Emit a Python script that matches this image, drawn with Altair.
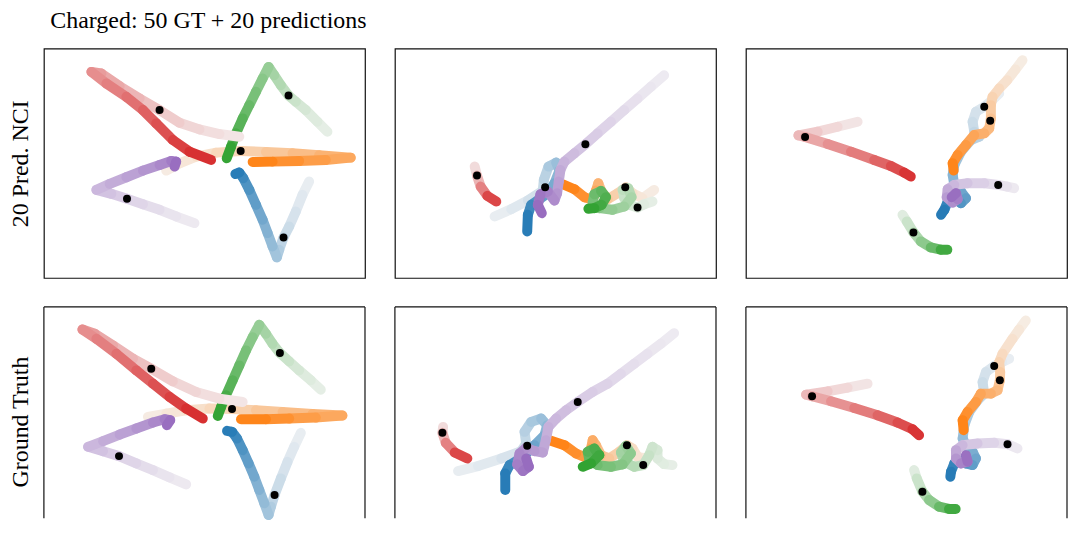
import altair as alt
import pandas as pd

# ---------------- data (positions in arbitrary plot units) ----------------
TRAJ = ["blue", "orange", "green", "red", "purple"]
COLORS = ["#1f77b4", "#ff7f0e", "#2ca02c", "#d62728", "#9467bd"]
FAINT = ["#eaeef2", "#f6ede5", "#e7efe7", "#f3e7e7", "#eeebf1"]

# Panel 1: 20 Pred. NCI, sample A  (each list runs from the faint/early end to the dark/late end)
P1_BLUE = [(810,405),(790,445),(770,495),(750,540),(733,573),(720,610),(713,633),(700,600),(685,560),(670,520),(650,475),(630,430),(612,395),(600,378),(588,382)]
P1_ORANGE = [(380,372),(420,350),(470,330),(530,318),(604,313),(680,316),(760,320),(840,326),(935,333),(860,340),(780,343),(700,345),(640,346)]
P1_GREEN = [(865,255),(835,225),(800,190),(770,165),(748,146),(725,115),(705,85),(688,60),(670,95),(650,135),(630,175),(610,215),(590,260),(575,300),(562,335)]
P1_RED = [(600,270),(540,262),(480,248),(420,228),(360,190),(300,155),(240,118),(185,80),(155,75),(200,110),(260,150),(310,190),(350,230),(400,280),(450,315),(515,340)]
P1_PURPLE = [(465,530),(410,510),(360,490),(310,473),(262,457),(215,442),(170,430),(210,412),(260,392),(310,372),(360,355),(395,343),(410,345),(405,360)]
P1_DOTS = [(360,190),(748,146),(604,313),(262,457),(733,573)]

# Panel 2: 20 Pred. NCI, sample B
P2_BLUE = [(310,510),(360,488),(410,462),(455,432),(458,400),(472,360),(495,348),(505,372),(490,410),(470,440),(445,458),(420,475),(410,505),(408,555)]
P2_ORANGE = [(790,430),(755,455),(725,440),(705,422),(680,440),(650,458),(632,435),(622,410),(615,432),(605,460),(580,452),(550,428),(515,413)]
P2_GREEN = [(785,465),(760,473),(740,483),(715,475),(700,455),(695,430),(712,425),(722,452),(700,480),(665,490),(625,485),(605,468),(610,443),(630,433),(645,452),(632,475),(610,485),(592,487)]
P2_RED = [(250,360),(257,387),(268,420),(288,448),(315,465)]
P2_PURPLE = [(820,85),(780,120),(740,155),(700,190),(660,225),(620,260),(583,293),(550,320),(520,345),(508,370),(503,405),(498,440),(490,462),(470,435),(448,443),(440,475),(452,500)]
P2_DOTS = [(583,293),(462,422),(257,387),(703,422),(740,483)]

# Panel 3: 20 Pred. NCI, sample C
P3_BLUE = [(776,140),(755,160),(731,180),(706,195),(696,225),(701,255),(716,270),(691,280),(661,315),(641,355),(636,385),(641,415),(661,435),(676,455),(661,470),(641,455),(621,465),(611,490),(601,505)]
P3_ORANGE = [(846,40),(825,68),(800,100),(776,125),(756,150),(751,175),(751,215),(746,245),(731,260),(701,265),(676,295),(651,325),(636,350),(639,372)]
P3_GREEN = [(485,505),(498,525),(518,558),(540,585),(570,603),(600,610),(620,610)]
P3_RED = [(350,225),(290,240),(230,255),(172,266),(192,271),(260,292),(330,315),(400,340),(450,358),(490,378),(510,390)]
P3_PURPLE = [(821,425),(800,420),(773,415),(731,410),(681,410),(641,415),(621,428),(618,452),(636,468),(651,458),(646,440),(633,452)]
P3_DOTS = [(192,271),(518,558),(731,180),(749,222),(773,415)]

# Panel 4: Ground Truth, sample A
P4_BLUE = [(785,393),(765,435),(745,480),(725,530),(706,580),(695,615),(688,640),(675,605),(660,565),(645,525),(628,485),(610,445),(593,410),(578,390),(563,387)]
P4_ORANGE = [(325,345),(380,335),(440,325),(510,320),(578,321),(650,325),(730,330),(820,336),(910,341),(830,347),(750,350),(680,352),(605,352)]
P4_GREEN = [(845,263),(815,235),(780,205),(750,178),(722,153),(700,125),(680,95),(660,68),(640,105),(620,145),(600,190),(580,235),(560,280),(545,315),(535,342)]
P4_RED = [(610,300),(540,290),(470,270),(400,238),(335,200),(280,170),(220,130),(165,95),(128,82),(170,110),(230,155),(290,205),(340,245),(390,285),(440,320),(490,350)]
P4_PURPLE = [(440,548),(390,527),(340,505),(290,485),(238,463),(190,448),(145,435),(190,418),(240,398),(290,380),(340,362),(375,352),(392,355),(382,370)]
P4_DOTS = [(335,200),(722,153),(578,321),(238,463),(706,580)]

# Panel 5: Ground Truth, sample B
P5_BLUE = [(200,508),(260,493),(330,470),(390,448),(405,425),(400,390),(420,360),(450,350),(468,370),(460,400),(430,430),(408,452),(380,475),(355,490),(342,515),(342,565)]
P5_ORANGE = [(790,455),(765,470),(740,465),(725,440),(708,430),(685,450),(655,470),(630,460),(615,430),(605,415),(600,440),(590,470),(555,455),(520,430),(475,415)]
P5_GREEN = [(845,490),(820,487),(800,470),(800,445),(785,435),(775,460),(757,490),(730,495),(700,480),(690,452),(705,432),(720,455),(695,488),(660,495),(620,490),(595,475),(590,450),(610,440),(625,460),(600,485),(575,495)]
P5_RED = [(155,375),(153,393),(163,423),(190,452),(228,470)]
P5_PURPLE = [(850,93),(810,125),(770,155),(730,185),(690,215),(650,245),(605,270),(560,300),(525,325),(495,350),(472,375),(464,415),(455,452),(430,448),(405,438),(385,455),(378,488),(395,508),(413,495),(405,470)]
P5_DOTS = [(560,300),(408,432),(153,393),(708,430),(757,490)]

# Panel 6: Ground Truth, sample C
P6_BLUE = [(806,170),(785,180),(761,192),(736,210),(726,240),(731,275),(711,295),(686,330),(671,370),(666,410),(676,430),(696,450),(706,470),(696,490),(676,485),(656,470),(641,485),(631,510),(629,525)]
P6_ORANGE = [(856,55),(836,82),(816,110),(786,155),(776,180),(779,210),(778,235),(771,265),(751,275),(721,275),(706,300),(681,330),(666,355),(669,385)]
P6_GREEN = [(520,505),(528,530),(545,570),(565,595),(595,615),(625,622),(645,622)]
P6_RED = [(380,245),(320,257),(260,268),(195,278),(213,283),(270,298),(340,318),(410,340),(470,362),(515,382),(535,400)]
P6_PURPLE = [(831,440),(801,427),(761,423),(711,425),(666,430),(646,445),(646,470),(661,485),(681,480),(676,460)]
P6_DOTS = [(213,283),(545,570),(761,192),(778,235),(801,427)]

PANELS = {
    1: ([P1_BLUE, P1_ORANGE, P1_GREEN, P1_RED, P1_PURPLE], P1_DOTS),
    2: ([P2_BLUE, P2_ORANGE, P2_GREEN, P2_RED, P2_PURPLE], P2_DOTS),
    3: ([P3_BLUE, P3_ORANGE, P3_GREEN, P3_RED, P3_PURPLE], P3_DOTS),
    4: ([P4_BLUE, P4_ORANGE, P4_GREEN, P4_RED, P4_PURPLE], P4_DOTS),
    5: ([P5_BLUE, P5_ORANGE, P5_GREEN, P5_RED, P5_PURPLE], P5_DOTS),
    6: ([P6_BLUE, P6_ORANGE, P6_GREEN, P6_RED, P6_PURPLE], P6_DOTS),
}
ROW_LABELS = {1: "20 Pred. NCI", 4: "Ground Truth"}
TITLE = "Charged: 50 GT + 20 predictions"

# ---------------- layout ----------------
PW = 322          # panel width (px)
PH_TOP = 230      # full panel height (px)
PH_BOT = 212      # visible part of the bottom-row panels (cut by the figure edge)
UNIT = 3.0        # data units per pixel
X_LEFT = {1: 12, 2: 10, 3: 14, 4: 12, 5: 10, 6: 14}
Y_TOP = {1: 5, 2: 5, 3: 5, 4: 14, 5: 14, 6: 14}

# ---------------- tables ----------------
seg_rows, dot_rows = [], []
for pid, (trajs, dots) in PANELS.items():
    for name, pts in zip(TRAJ, trajs):
        n = len(pts)
        for i in range(n - 1):
            seg_rows.append({"panel": pid, "traj": name,
                             "x": pts[i][0], "y": pts[i][1],
                             "x2": pts[i + 1][0], "y2": pts[i + 1][1],
                             "t": (i + 0.5) / (n - 1)})
    for (x, y) in dots:
        dot_rows.append({"panel": pid, "x": x, "y": y})
seg_df = pd.DataFrame(seg_rows)
dot_df = pd.DataFrame(dot_rows)

SERIF = "Liberation Serif"
BORDER = "#111111"
ONE_ROW = alt.Data(values=[{"f": 1}])


def panel(pid):
    ph = PH_TOP if pid <= 3 else PH_BOT
    xs = alt.Scale(domain=[X_LEFT[pid], X_LEFT[pid] + PW * UNIT], nice=False, zero=False)
    ys = alt.Scale(domain=[Y_TOP[pid], Y_TOP[pid] + ph * UNIT], nice=False, zero=False, reverse=True)
    if pid in ROW_LABELS:
        yaxis = alt.Axis(title=ROW_LABELS[pid], labels=False, ticks=False, domain=False,
                         grid=False, titleFont=SERIF, titleFontSize=24, titleY=PH_TOP / 2,
                         titleFontWeight="normal", titleColor="black", titlePadding=11)
    else:
        yaxis = None
    layers = []
    for name, col, faint in zip(TRAJ, COLORS, FAINT):
        layers.append(
            alt.Chart(seg_df)
            .transform_filter((alt.datum.panel == pid) & (alt.datum.traj == name))
            .mark_rule(strokeWidth=10, strokeCap="round")
            .encode(
                x=alt.X("x:Q", scale=xs, axis=None),
                y=alt.Y("y:Q", scale=ys, axis=yaxis),
                x2="x2:Q",
                y2="y2:Q",
                color=alt.Color("t:Q", scale=alt.Scale(type="pow", exponent=1.35, domain=[0, 1],
                                                       range=[faint, col], interpolate="rgb"),
                                legend=None),
            )
        )
    layers.append(
        alt.Chart(dot_df).transform_filter(alt.datum.panel == pid)
        .mark_circle(size=64, color="black", opacity=1)
        .encode(x=alt.X("x:Q", scale=xs, axis=None), y=alt.Y("y:Q", scale=ys, axis=yaxis))
    )
    if pid > 3:
        # bottom row is cut by the figure edge: frame on top, left and right only
        frame = alt.Chart(ONE_ROW).mark_rule(color=BORDER, strokeWidth=1.2)
        layers += [
            frame.encode(x=alt.value(0), x2=alt.value(PW), y=alt.value(0)),
            frame.encode(x=alt.value(0), y=alt.value(0), y2=alt.value(ph)),
            frame.encode(x=alt.value(PW), y=alt.value(0), y2=alt.value(ph)),
        ]
        return alt.layer(*layers).resolve_scale(color="independent").properties(
            width=PW, height=ph, view=alt.ViewBackground(stroke=None))
    return alt.layer(*layers).resolve_scale(color="independent").properties(width=PW, height=ph)


row1 = alt.hconcat(panel(1), panel(2), panel(3), spacing=28).resolve_scale(color="independent")
row2 = alt.hconcat(panel(4), panel(5), panel(6), spacing=28).resolve_scale(color="independent")

chart = alt.vconcat(row1, row2, spacing=27).resolve_scale(color="independent").properties(
    title=alt.TitleParams(TITLE, anchor="start", frame="bounds", dx=42, offset=15,
                          font=SERIF, fontSize=24, fontWeight="normal", color="black"),
    padding={"left": 0, "top": 0, "right": 0, "bottom": 0},
    background="white",
).configure_view(stroke=BORDER, strokeWidth=1.2)

chart.save("out.html", embed_options={"renderer": "svg", "actions": False})
